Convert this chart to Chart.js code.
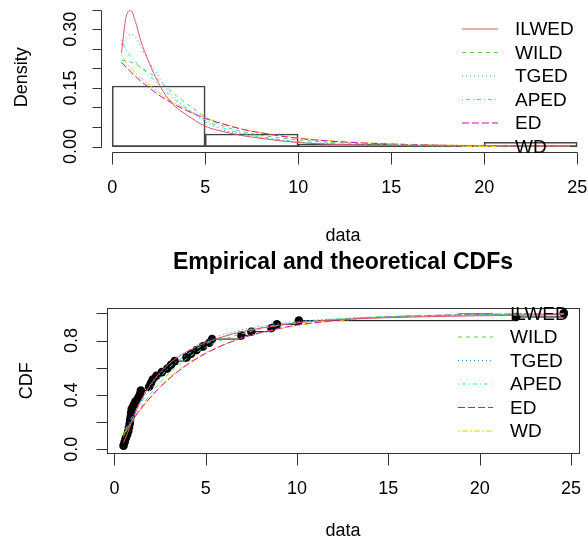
<!DOCTYPE html>
<html>
<head>
<meta charset="utf-8">
<script src="https://cdn.jsdelivr.net/npm/chart.js@4"></script>
<style>
  html, body { margin: 0; padding: 0; background: #fff; }
  #wrap { position: relative; width: 588px; height: 547px; }
  canvas { position: absolute; left: 0; }
  #dens { top: 0; }
  #cdf { top: 250px; }
</style>
</head>
<body>
<div id="wrap">
  <canvas id="dens" width="588" height="250"></canvas>
  <canvas id="cdf" width="588" height="297"></canvas>
</div>
<script>
const sampleData = [0.5, 0.56, 0.62, 0.7, 0.76, 0.8, 0.84, 0.86, 0.9, 0.92, 0.95, 1.05, 1.15, 1.3,
  1.4, 1.45, 1.9, 2.0, 2.1, 2.3, 2.6, 2.9, 3.1, 3.3, 3.95, 4.2, 4.5, 4.85, 5.2, 5.35, 6.95, 7.5,
  8.6, 8.9, 10.1, 22.0, 24.6];

// histogram
const binEdges = [0, 5, 10, 15, 20, 25];
const histDensity = [0.155, 0.032, 0.0055, 0, 0.011];

// fitted curves, read at these x values
const curveX = [0.5, 0.75, 1, 1.25, 1.5, 2, 2.5, 3, 3.5, 4, 5, 6, 7, 8, 10, 12.5, 15, 20, 24.6];

const densILWED = [0.24, 0.332, 0.348, 0.32, 0.277, 0.213, 0.162, 0.123, 0.098, 0.081, 0.052, 0.038, 0.028, 0.021, 0.010, 0.005, 0.003, 0.0012, 0.0006];
const densWILD  = [0.221, 0.219, 0.216, 0.211, 0.204, 0.189, 0.17, 0.149, 0.128, 0.11, 0.076, 0.052, 0.038, 0.029, 0.017, 0.009, 0.005, 0.0017, 0.0006];
const densTGED  = [0.26, 0.277, 0.287, 0.281, 0.26, 0.217, 0.179, 0.145, 0.119, 0.098, 0.064, 0.042, 0.032, 0.023, 0.011, 0.005, 0.0025, 0.0007, 0.0002];
const densAPED  = [0.273, 0.247, 0.23, 0.217, 0.204, 0.183, 0.157, 0.136, 0.115, 0.098, 0.068, 0.047, 0.034, 0.025, 0.012, 0.006, 0.003, 0.0008, 0.0002];
const densED    = [0.216, 0.203, 0.191, 0.180, 0.169, 0.150, 0.132, 0.117, 0.104, 0.092, 0.072, 0.057, 0.044, 0.035, 0.021, 0.0115, 0.0063, 0.0018, 0.0006];
const densWD    = [0.235, 0.215, 0.2, 0.188, 0.177, 0.157, 0.139, 0.122, 0.108, 0.095, 0.074, 0.058, 0.045, 0.036, 0.022, 0.012, 0.007, 0.0025, 0.001];

const cdfILWED = [0.05, 0.13, 0.22, 0.30, 0.37, 0.48, 0.565, 0.63, 0.68, 0.72, 0.785, 0.83, 0.865, 0.89, 0.93, 0.955, 0.968, 0.982, 0.99];
const cdfWILD  = [0.11, 0.165, 0.22, 0.27, 0.32, 0.41, 0.49, 0.56, 0.62, 0.67, 0.75, 0.81, 0.85, 0.885, 0.93, 0.96, 0.975, 0.99, 0.996];
const cdfTGED  = [0.09, 0.16, 0.23, 0.30, 0.365, 0.47, 0.555, 0.625, 0.68, 0.725, 0.795, 0.845, 0.88, 0.905, 0.94, 0.962, 0.975, 0.988, 0.994];
const cdfAPED  = [0.12, 0.18, 0.245, 0.30, 0.35, 0.445, 0.53, 0.60, 0.655, 0.70, 0.775, 0.83, 0.87, 0.895, 0.935, 0.96, 0.975, 0.99, 0.996];
const cdfED    = [0.115, 0.167, 0.217, 0.263, 0.307, 0.386, 0.457, 0.519, 0.574, 0.623, 0.705, 0.769, 0.819, 0.858, 0.913, 0.953, 0.974, 0.992, 0.998];
const cdfWD    = [0.10, 0.155, 0.205, 0.255, 0.30, 0.385, 0.46, 0.525, 0.58, 0.63, 0.71, 0.77, 0.82, 0.855, 0.91, 0.948, 0.97, 0.988, 0.995];

const distNames = ['ILWED', 'WILD', 'TGED', 'APED', 'ED', 'WD'];
const densCurves = [densILWED, densWILD, densTGED, densAPED, densED, densWD];
const cdfCurves = [cdfILWED, cdfWILD, cdfTGED, cdfAPED, cdfED, cdfWD];

// tick labels
const densXTicks = [0, 5, 10, 15, 20, 25];
const densYTicks = [0, 0.05, 0.1, 0.15, 0.2, 0.25, 0.3, 0.35];
const densYLabels = [0, 0.15, 0.3];
const cdfXTicks = [0, 5, 10, 15, 20, 25];
const cdfYTicks = [0, 0.2, 0.4, 0.6, 0.8, 1];
const cdfYLabels = [0, 0.4, 0.8];

// R 4 palette + lty
const distColors = ['#DF536B', '#61D04F', '#2297E6', '#28E2E5', '#CD0BBC', '#F5C710'];
const distDashes = [[], [4, 4], [1, 3], [1, 3, 4, 3], [7, 3], [2, 2, 6, 2]];
const FONT = "'Liberation Sans', Arial, sans-serif";

function seg(ctx, x1, y1, x2, y2) {
  ctx.beginPath(); ctx.moveTo(x1, y1); ctx.lineTo(x2, y2); ctx.stroke();
}
const crisp = v => Math.round(v) + 0.5;

// base-graphics style axes, titles and legend
function rStyle(o) {
  return {
    id: 'rStyle',
    afterDraw(chart) {
      const { ctx, chartArea: a, scales: { x, y } } = chart;
      ctx.save();
      ctx.strokeStyle = '#333';
      ctx.fillStyle = '#000';
      ctx.lineWidth = 1;
      ctx.setLineDash([]);
      if (o.box) {
        ctx.strokeRect(crisp(a.left), crisp(a.top), Math.round(a.right - a.left), Math.round(a.bottom - a.top));
      }
      const xs = o.xTicks.map(v => crisp(x.getPixelForValue(v)));
      const yb = crisp(a.bottom);
      seg(ctx, xs[0], yb, xs[xs.length - 1], yb);
      xs.forEach(px => seg(ctx, px, yb, px, yb + o.tickLenX));
      const ys = o.yTicks.map(v => crisp(y.getPixelForValue(v)));
      const xl = crisp(a.left);
      seg(ctx, xl, ys[0], xl, ys[ys.length - 1]);
      ys.forEach(py => seg(ctx, xl - o.tickLenY, py, xl, py));

      ctx.font = `${o.tickSize}px ${FONT}`;
      ctx.textAlign = 'center';
      ctx.textBaseline = 'middle';
      o.xTicks.forEach(v => ctx.fillText(String(v), x.getPixelForValue(v), o.xLabelY));
      o.yLabels.forEach(v => {
        ctx.save();
        ctx.translate(o.yLabelX, y.getPixelForValue(v));
        ctx.rotate(-Math.PI / 2);
        ctx.fillText(v.toFixed(o.yDigits), 0, 0);
        ctx.restore();
      });

      ctx.font = `${o.titleSize}px ${FONT}`;
      ctx.fillText(o.xTitle, (a.left + a.right) / 2, o.xTitleY);
      ctx.save();
      ctx.translate(o.yTitleX, (a.top + a.bottom) / 2);
      ctx.rotate(-Math.PI / 2);
      ctx.fillText(o.yTitle, 0, 0);
      ctx.restore();

      if (o.main) {
        ctx.font = `bold ${o.mainSize}px ${FONT}`;
        ctx.fillText(o.main, (a.left + a.right) / 2, o.mainY);
      }

      const L = o.legend;
      ctx.font = `${L.size}px ${FONT}`;
      ctx.textAlign = 'left';
      distNames.forEach((name, i) => {
        const yy = L.y0 + i * L.dy;
        ctx.strokeStyle = distColors[i];
        ctx.setLineDash(distDashes[i]);
        seg(ctx, L.x1, yy, L.x2, yy);
        ctx.fillStyle = '#000';
        ctx.fillText(name, L.tx, yy + 1);
      });
      ctx.restore();
    }
  };
}

const pts = arr => curveX.map((x, i) => ({ x, y: arr[i] }));

function curveSets(curves) {
  return curves.map((arr, i) => ({
    type: 'line',
    label: distNames[i],
    data: pts(arr),
    borderColor: distColors[i],
    borderDash: distDashes[i],
    borderWidth: 1,
    pointRadius: 0,
    cubicInterpolationMode: 'monotone',
    order: 1
  }));
}

const fixedTicks = list => scale => { scale.ticks = list.map(v => ({ value: v })); };

// --- densities ---
const histMids = histDensity.map((d, i) => ({ x: (binEdges[i] + binEdges[i + 1]) / 2, y: d }));

new Chart(document.getElementById('dens'), {
  type: 'line',
  data: {
    datasets: [
      ...curveSets(densCurves),
      {
        type: 'bar',
        label: 'hist',
        data: histMids,
        backgroundColor: 'rgba(0,0,0,0)',
        borderColor: '#444',
        borderWidth: 1,
        borderSkipped: false,
        barPercentage: 1,
        categoryPercentage: 1,
        order: 2
      },
      {
        type: 'line',
        label: 'base',
        data: [{ x: binEdges[0], y: 0 }, { x: binEdges[binEdges.length - 1], y: 0 }],
        borderColor: '#444',
        borderWidth: 1,
        pointRadius: 0,
        order: 3
      }
    ]
  },
  options: {
    responsive: false,
    animation: false,
    layout: { padding: { left: 101, right: 3, top: 2, bottom: 97.7 } },
    scales: {
      x: {
        type: 'linear', min: -0.6, max: 25.42, display: false,
        offset: false, grid: { offset: false },
        afterBuildTicks: fixedTicks(binEdges)
      },
      y: { type: 'linear', min: -0.0148, max: 0.37, display: false }
    },
    plugins: { legend: { display: false }, tooltip: { enabled: false } }
  },
  plugins: [rStyle({
    box: false,
    xTicks: densXTicks, yTicks: densYTicks, yLabels: densYLabels, yDigits: 2,
    tickLenX: 12, tickLenY: 9, tickSize: 18,
    xLabelY: 188, yLabelX: 71,
    titleSize: 18, xTitle: 'data', xTitleY: 236, yTitle: 'Density', yTitleX: 22,
    legend: { x1: 462, x2: 498, tx: 515, y0: 29, dy: 23.5, size: 19 }
  })]
});

// --- CDFs ---
const n = sampleData.length;
const ecdfY = sampleData.map((_, i) => (i + 1) / n);
const ecdfSteps = [];
sampleData.forEach((x, i) => {
  const next = i < n - 1 ? sampleData[i + 1] : x;
  ecdfSteps.push({ x, y: ecdfY[i] }, { x: next, y: ecdfY[i] }, { x: next, y: null });
});

new Chart(document.getElementById('cdf'), {
  type: 'line',
  data: {
    datasets: [
      ...curveSets(cdfCurves),
      {
        type: 'line',
        label: 'ecdf',
        data: ecdfSteps,
        borderColor: '#000',
        borderWidth: 1,
        pointRadius: 0,
        spanGaps: false,
        order: 3
      },
      {
        type: 'line',
        label: 'points',
        data: sampleData.map((x, i) => ({ x, y: ecdfY[i] })),
        showLine: false,
        pointRadius: 4.3,
        pointBackgroundColor: '#000',
        pointBorderColor: '#000',
        pointBorderWidth: 0,
        order: 2
      }
    ]
  },
  options: {
    responsive: false,
    animation: false,
    layout: { padding: { left: 107, right: 9, top: 58.3, bottom: 93.7 } },
    scales: {
      x: { type: 'linear', min: -0.405, max: 25.44, display: false },
      y: { type: 'linear', min: -0.0294, max: 1.0368, display: false }
    },
    plugins: { legend: { display: false }, tooltip: { enabled: false } }
  },
  plugins: [rStyle({
    box: true,
    xTicks: cdfXTicks, yTicks: cdfYTicks, yLabels: cdfYLabels, yDigits: 1,
    tickLenX: 12, tickLenY: 11, tickSize: 18,
    xLabelY: 239, yLabelX: 71.7,
    titleSize: 18, xTitle: 'data', xTitleY: 281, yTitle: 'CDF', yTitleX: 27,
    main: 'Empirical and theoretical CDFs', mainSize: 23, mainY: 13,
    legend: { x1: 458, x2: 493, tx: 510, y0: 63.5, dy: 23.5, size: 19 }
  })]
});
</script>
</body>
</html>
